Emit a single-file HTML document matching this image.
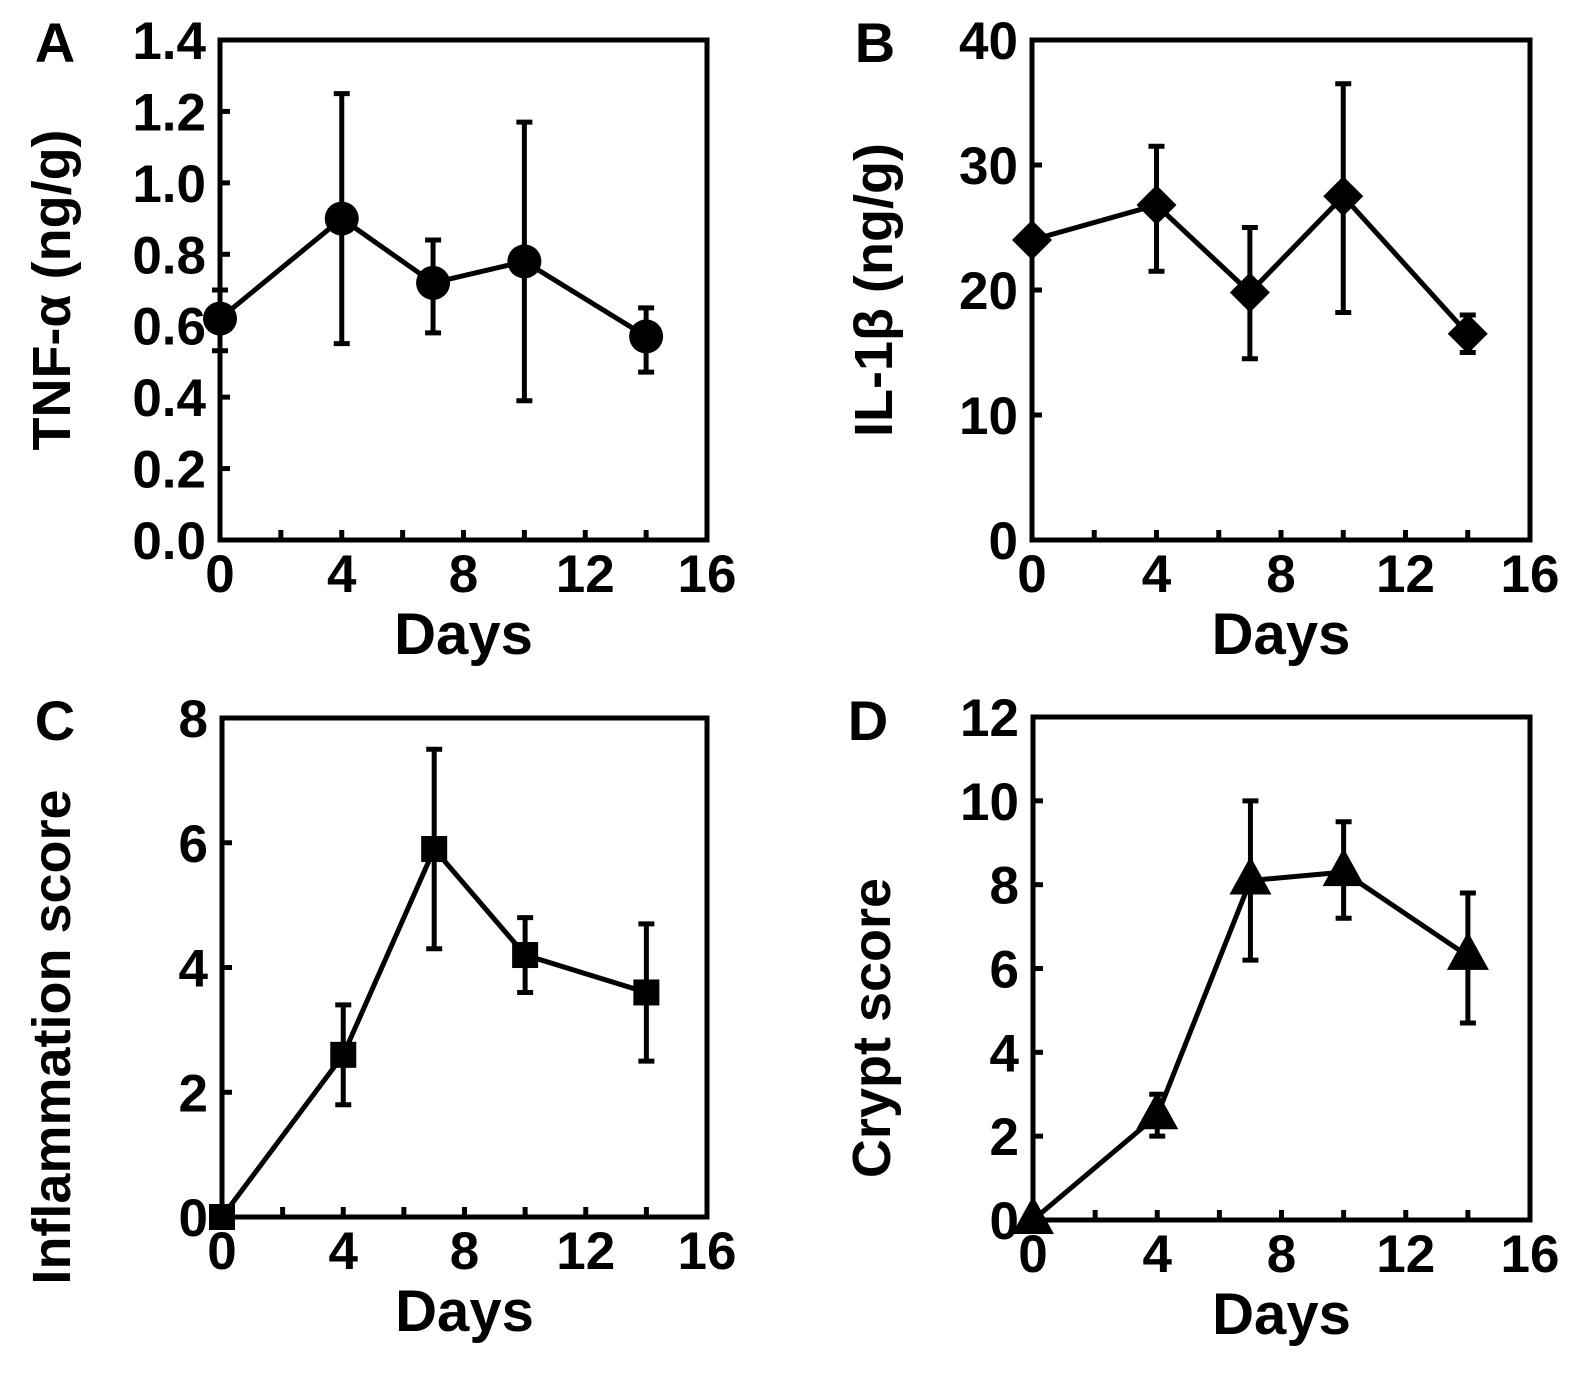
<!DOCTYPE html>
<html><head><meta charset="utf-8"><style>
html,body{margin:0;padding:0;background:#fff;}
svg text{font-family:"Liberation Sans",Arial,sans-serif;font-weight:bold;fill:#000;}
</style></head><body>
<svg id="fig" width="1571" height="1380" viewBox="0 0 1571 1380" xmlns="http://www.w3.org/2000/svg"></svg>
<script>
const days = [0, 4, 7, 10, 14];
const xTicks = [0, 4, 8, 12, 16];
const tnfMean = [0.62, 0.90, 0.72, 0.78, 0.57];
const tnfLo = [0.53, 0.55, 0.58, 0.39, 0.47];
const tnfHi = [0.70, 1.25, 0.84, 1.17, 0.65];
const tnfTicks = ["0.0","0.2","0.4","0.6","0.8","1.0","1.2","1.4"];
const il1Mean = [24.0, 26.8, 19.8, 27.5, 16.5];
const il1Lo = [24.0, 21.5, 14.5, 18.2, 15.0];
const il1Hi = [24.0, 31.5, 25.0, 36.5, 18.0];
const il1Ticks = ["0","10","20","30","40"];
const inflMean = [0, 2.6, 5.9, 4.2, 3.6];
const inflLo = [0, 1.8, 4.3, 3.6, 2.5];
const inflHi = [0, 3.4, 7.5, 4.8, 4.7];
const inflTicks = ["0","2","4","6","8"];
const cryptMean = [0, 2.5, 8.1, 8.3, 6.3];
const cryptLo = [0, 2.0, 6.2, 7.2, 4.7];
const cryptHi = [0, 3.0, 10.0, 9.5, 7.8];
const cryptTicks = ["0","2","4","6","8","10","12"];

const NS = "http://www.w3.org/2000/svg";
const svg = document.getElementById("fig");
function mk(tag, attrs, parent, text){
  const e = document.createElementNS(NS, tag);
  for (const k in attrs) e.setAttribute(k, attrs[k]);
  if (text !== undefined) e.textContent = text;
  (parent || svg).appendChild(e);
  return e;
}
function panel(cfg){
  const g = mk("g", {});
  
  
  const {x0,x1,y0,y1} = cfg;
  const ymax = parseFloat(cfg.ticks[cfg.ticks.length-1]);
  const sx = v => x0 + (v/16)*(x1-x0);
  const sy = v => y1 - (v/ymax)*(y1-y0);
  const frame = mk("rect", {x:x0,y:y0,width:x1-x0,height:y1-y0,fill:"none",stroke:"#000","stroke-width":5}, g);
  
  
  for (let v=2; v<16; v+=2){
    const t = mk("line", {x1:sx(v),x2:sx(v),y1:y1,y2:y1-10,stroke:"#000","stroke-width":5}, g);
    
    
  }
  xTicks.forEach(v=>{
    const t = mk("text", {x:sx(v),y:y1+52,"font-size":53,"text-anchor":"middle"}, g, String(v));
    
    
  });
  cfg.ticks.forEach(s=>{
    const v = parseFloat(s);
    if (v>0 && v<ymax){
      const t = mk("line", {x1:x0,x2:x0+10,y1:sy(v),y2:sy(v),stroke:"#000","stroke-width":5}, g);
      
      
    }
    const l = mk("text", {x:x0-14,y:sy(v)+19,"font-size":53,"text-anchor":"end"}, g, s);
    
    
  });
  const xt = mk("text", {x:(x0+x1)/2,y:y1+114,"font-size":58,"text-anchor":"middle"}, g, "Days");
  
  
  const yc = cfg.ytc;
  const yt = mk("text", {x:cfg.ytx,y:yc,"font-size":54,"text-anchor":"middle",transform:`rotate(-90 ${cfg.ytx} ${yc})`}, g, cfg.ytitle);
  
  
  const pl = mk("text", {x:cfg.lx,y:cfg.ly,"font-size":56,"text-anchor":"middle"}, g, cfg.letter);
  
  
  days.forEach((d,i)=>{
    if (cfg.hi[i]-cfg.lo[i] <= 0) return;
    const x = sx(d);
    const eb = mk("path", {d:`M${x},${sy(cfg.lo[i])}V${sy(cfg.hi[i])}M${x-8},${sy(cfg.lo[i])}H${x+8}M${x-8},${sy(cfg.hi[i])}H${x+8}`,stroke:"#000","stroke-width":5,fill:"none"}, g);
    
    
  });
  const pts = days.map((d,i)=>`${sx(d)},${sy(cfg.mean[i])}`).join(" ");
  const ln = mk("polyline", {points:pts,fill:"none",stroke:"#000","stroke-width":5}, g);
  
  
  days.forEach((d,i)=>{
    const x = sx(d), y = sy(cfg.mean[i]);
    let m;
    if (cfg.marker==="circle") m = mk("circle",{cx:x,cy:y,r:17,fill:"#000"},g);
    else if (cfg.marker==="diamond") m = mk("polygon",{points:`${x},${y-20} ${x+20},${y} ${x},${y+20} ${x-20},${y}`,fill:"#000"},g);
    else if (cfg.marker==="square") m = mk("rect",{x:x-13,y:y-13,width:26,height:26,fill:"#000"},g);
    else m = mk("polygon",{points:`${x},${y-24} ${x+21},${y+14} ${x-21},${y+14}`,fill:"#000"},g);
    
    
  });
}
panel({name:"panel-a-tnf",letter:"A",lx:55,ly:62,ytx:70,ytc:290,x0:220,x1:707,y0:40,y1:540,ticks:tnfTicks,mean:tnfMean,lo:tnfLo,hi:tnfHi,marker:"circle",ytitle:"TNF-α (ng/g)"});
panel({name:"panel-b-il1b",letter:"B",lx:875,ly:62,ytx:892,ytc:290,x0:1032,x1:1530,y0:40,y1:540,ticks:il1Ticks,mean:il1Mean,lo:il1Lo,hi:il1Hi,marker:"diamond",ytitle:"IL-1β (ng/g)"});
panel({name:"panel-c-inflammation",letter:"C",lx:55,ly:740,ytx:70,ytc:1037,x0:222,x1:707,y0:718,y1:1217,ticks:inflTicks,mean:inflMean,lo:inflLo,hi:inflHi,marker:"square",ytitle:"Inflammation score"});
panel({name:"panel-d-crypt",letter:"D",lx:868,ly:740,ytx:890,ytc:1028,x0:1033,x1:1530,y0:717,y1:1220,ticks:cryptTicks,mean:cryptMean,lo:cryptLo,hi:cryptHi,marker:"triangle",ytitle:"Crypt score"});
</script>
</body></html>
